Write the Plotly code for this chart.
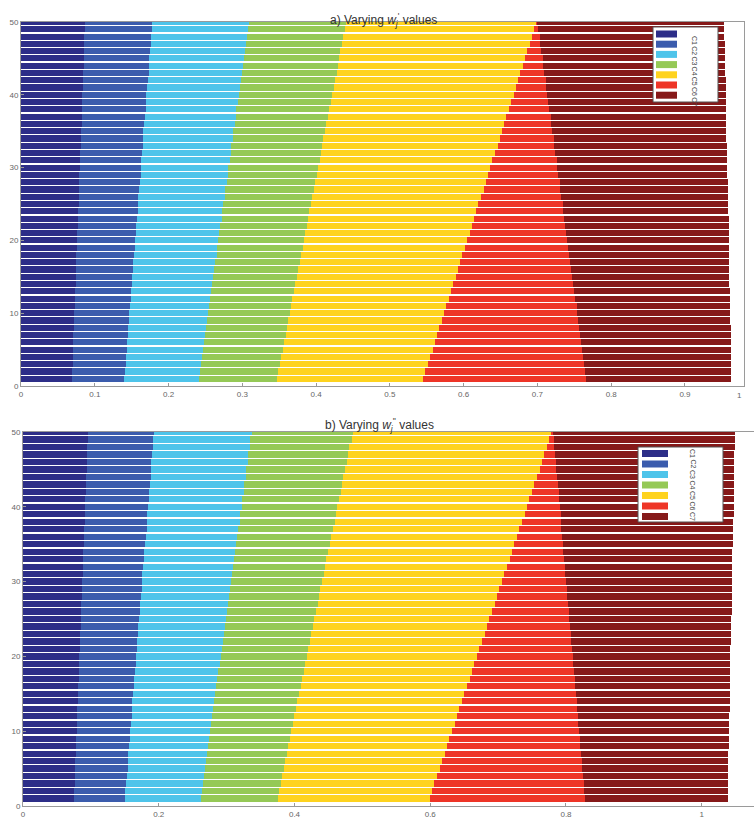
import numpy as np
import plotly.graph_objects as go
from plotly.subplots import make_subplots

# ---------------- data ----------------
bar_index = list(range(1, 51))
classes = ["C1", "C2", "C3", "C4", "C5", "C6", "C7"]
colors = ["#2d2e88", "#3b5cad", "#4ec4ea", "#95c956", "#fed31f", "#ee3527", "#861919"]

# panel a: right edge (cumulative value) of each class for bars 1..50
a_C1 = [.069,.069,.070,.070,.070,.071,.071,.072,.072,.072,.073,.073,.073,.074,.074,.074,.075,.075,.076,.076,
        .076,.077,.077,.077,.078,.078,.079,.079,.079,.080,.080,.080,.081,.081,.081,.082,.082,.083,.083,.083,
        .084,.084,.084,.085,.085,.085,.086,.086,.087,.087]
a_C2 = [.140,.141,.142,.142,.143,.144,.145,.145,.146,.147,.148,.149,.149,.150,.151,.152,.152,.153,.154,.155,
        .156,.156,.157,.158,.159,.159,.160,.161,.162,.163,.163,.164,.165,.166,.166,.167,.168,.169,.170,.170,
        .171,.172,.173,.173,.174,.175,.176,.176,.177,.178]
a_C3 = [.241,.242,.244,.245,.247,.248,.249,.251,.252,.254,.255,.256,.258,.259,.260,.262,.263,.265,.266,.267,
        .269,.270,.272,.273,.274,.276,.277,.279,.280,.281,.283,.284,.285,.287,.288,.290,.291,.292,.294,.295,
        .297,.298,.299,.301,.302,.303,.305,.306,.308,.309]
a_C4 = [.347,.349,.351,.353,.355,.357,.359,.360,.362,.364,.366,.368,.370,.372,.374,.376,.378,.380,.382,.383,
        .385,.387,.389,.391,.393,.395,.397,.399,.401,.403,.405,.406,.408,.410,.412,.414,.416,.418,.420,.422,
        .424,.426,.428,.430,.431,.433,.435,.437,.439,.441]
a_C5 = [.545,.548,.551,.554,.558,.561,.564,.567,.570,.573,.576,.580,.583,.586,.589,.592,.595,.598,.602,.605,
        .608,.611,.614,.617,.620,.624,.627,.630,.633,.636,.639,.642,.646,.649,.652,.655,.658,.661,.664,.668,
        .671,.674,.677,.680,.683,.686,.690,.693,.696,.699]
a_C6 = [.766,.765,.763,.762,.761,.759,.758,.757,.755,.754,.753,.751,.750,.748,.747,.746,.744,.743,.742,.740,
        .739,.738,.736,.735,.734,.732,.731,.730,.728,.727,.726,.724,.723,.722,.720,.719,.718,.716,.715,.713,
        .712,.711,.709,.708,.707,.705,.704,.703,.701,.700]
a_C7 = [.963,.963,.963,.962,.962,.962,.962,.962,.961,.961,.961,.961,.961,.960,.960,.960,.960,.960,.959,.959,
        .959,.959,.959,.958,.958,.958,.958,.958,.957,.957,.957,.957,.957,.956,.956,.956,.956,.956,.955,.955,
        .955,.955,.954,.954,.954,.954,.954,.953,.953,.953]

# panel b
b_C1 = [.075,.075,.076,.076,.077,.077,.078,.078,.078,.079,.079,.080,.080,.081,.081,.081,.082,.082,.083,.083,
        .084,.084,.084,.085,.085,.086,.086,.087,.087,.087,.088,.088,.089,.089,.090,.090,.090,.091,.091,.092,
        .092,.093,.093,.093,.094,.094,.095,.095,.096,.096]
b_C2 = [.150,.151,.152,.153,.154,.154,.155,.156,.157,.158,.159,.160,.161,.161,.162,.163,.164,.165,.166,.167,
        .168,.168,.169,.170,.171,.172,.173,.174,.175,.175,.176,.177,.178,.179,.180,.181,.182,.182,.183,.184,
        .185,.186,.187,.188,.189,.189,.190,.191,.192,.193]
b_C3 = [.262,.264,.265,.267,.268,.270,.271,.273,.274,.276,.277,.279,.280,.282,.283,.285,.286,.288,.290,.291,
        .293,.294,.296,.297,.299,.300,.302,.303,.305,.306,.308,.309,.311,.313,.314,.316,.317,.319,.320,.322,
        .323,.325,.326,.328,.329,.331,.332,.334,.335,.337]
b_C4 = [.375,.377,.380,.382,.384,.386,.389,.391,.393,.395,.398,.400,.402,.404,.407,.409,.411,.414,.416,.418,
        .420,.423,.425,.427,.429,.432,.434,.436,.438,.441,.443,.445,.447,.450,.452,.454,.457,.459,.461,.463,
        .466,.468,.470,.472,.475,.477,.479,.481,.484,.486]
b_C5 = [.599,.603,.606,.610,.614,.617,.621,.625,.628,.632,.636,.639,.643,.647,.650,.654,.658,.661,.665,.669,
        .672,.676,.680,.683,.687,.691,.695,.698,.702,.706,.709,.713,.717,.720,.724,.728,.731,.735,.739,.742,
        .746,.750,.753,.757,.761,.764,.768,.772,.775,.779]
b_C6 = [.828,.827,.826,.825,.824,.823,.822,.821,.820,.819,.818,.817,.816,.816,.815,.814,.813,.812,.811,.810,
        .809,.808,.807,.806,.805,.804,.803,.802,.801,.800,.799,.798,.797,.796,.795,.794,.793,.793,.792,.791,
        .790,.789,.788,.787,.786,.785,.784,.783,.782,.781]
b_C7 = [1.038,1.038,1.038,1.039,1.039,1.039,1.039,1.040,1.040,1.040,1.040,1.040,1.041,1.041,1.041,1.041,
        1.042,1.042,1.042,1.042,1.042,1.043,1.043,1.043,1.043,1.044,1.044,1.044,1.044,1.045,1.045,1.045,
        1.045,1.045,1.046,1.046,1.046,1.046,1.047,1.047,1.047,1.047,1.047,1.048,1.048,1.048,1.048,1.049,
        1.049,1.049]

a_ticks = [0, 0.1, 0.2, 0.3, 0.4, 0.5, 0.6, 0.7, 0.8, 0.9]
b_ticks = [0, 0.2, 0.4, 0.6, 0.8, 1]
y_ticks = [0, 10, 20, 30, 40, 50]

a_edges = [a_C1, a_C2, a_C3, a_C4, a_C5, a_C6, a_C7]
b_edges = [b_C1, b_C2, b_C3, b_C4, b_C5, b_C6, b_C7]

# ---------------- figure ----------------
W, H = 754, 821
fig = make_subplots(rows=2, cols=1)

def add_panel(edges, row):
    prev = np.zeros(len(bar_index))
    for name, col, e in zip(classes, colors, edges):
        e = np.array(e)
        fig.add_trace(go.Bar(y=bar_index, x=e - prev, orientation="h", name=name,
                             marker=dict(color=col, line=dict(width=0)),
                             showlegend=False), row=row, col=1)
        prev = e

add_panel(a_edges, 1)
add_panel(b_edges, 2)

def px_x(p):
    return p / W

def px_y(p):
    return 1 - p / H

font = "Liberation Sans, Arial, sans-serif"
axis_common = dict(showgrid=False, zeroline=False, showline=True, linecolor="#9a9a9a",
                   linewidth=1, mirror=True, ticks="inside", ticklen=3, tickcolor="#9a9a9a",
                   automargin=False,
                   tickfont=dict(size=8, color="#666666", family=font))

fig.update_xaxes(**axis_common)
fig.update_yaxes(**axis_common)

fig.update_layout(
    width=W, height=H, barmode="stack", bargap=0.16,
    margin=dict(l=0, r=0, t=0, b=0, autoexpand=False),
    paper_bgcolor="white", plot_bgcolor="white",
    xaxis=dict(domain=[px_x(21), px_x(744)], range=[0, 0.98], tickvals=a_ticks,
               ticktext=[f"{t:g}" for t in a_ticks]),
    yaxis=dict(domain=[px_y(386), px_y(22)], range=[0, 50], tickvals=y_ticks),
    xaxis2=dict(domain=[px_x(23), 1.0], range=[0, 1.077], tickvals=b_ticks,
                ticktext=[f"{t:g}" for t in b_ticks]),
    yaxis2=dict(domain=[px_y(806), px_y(432)], range=[0, 50], tickvals=y_ticks),
    font=dict(family=font),
)

# "1" label at the right end of panel a axis
fig.add_annotation(x=1.0, y=0, xref="x domain", yref="y domain", text="1", showarrow=False,
                   yanchor="top", yshift=-3, font=dict(size=8, color="#666666", family=font))

# titles
fig.add_annotation(x=0.508, y=px_y(9), xref="paper", yref="paper",
                   text="a) Varying <i>w<sub>j</sub></i><sup>'</sup> values", showarrow=False,
                   font=dict(size=12, color="#333333", family=font))
fig.add_annotation(x=0.503, y=px_y(425), xref="paper", yref="paper",
                   text="b) Varying <i>w<sub>j</sub></i><sup>''</sup> values", showarrow=False,
                   font=dict(size=12, color="#333333", family=font))

# legends (matlab-style boxes with rotated labels)
def legend_box(box, patch_x, row_y0, row_step, patch_h, label_x):
    x0, y0, x1, y1 = box
    fig.add_shape(type="rect", xref="paper", yref="paper",
                  x0=px_x(x0), x1=px_x(x1), y0=px_y(y1), y1=px_y(y0),
                  fillcolor="white", line=dict(color="#555555", width=1), layer="above")
    for i, (name, col) in enumerate(zip(classes, colors)):
        top = row_y0 + i * row_step
        fig.add_shape(type="rect", xref="paper", yref="paper",
                      x0=px_x(patch_x[0]), x1=px_x(patch_x[1]),
                      y0=px_y(top + patch_h), y1=px_y(top),
                      fillcolor=col, line=dict(width=0), layer="above")
        fig.add_annotation(x=px_x(label_x), y=px_y(top + patch_h / 2), xref="paper", yref="paper",
                           text=name, showarrow=False, textangle=90,
                           font=dict(size=7, color="#444444", family=font))

legend_box((653, 27, 718, 102), (656, 677), 30.5, 10.2, 7, 700)
legend_box((638, 447, 723, 522), (642, 668), 450, 10.5, 7, 698)

fig.write_html("out.html", config={"displayModeBar": False},
               post_script="document.body.style.margin='0';document.body.style.padding='0';"
                           "document.body.style.overflow='hidden';")
